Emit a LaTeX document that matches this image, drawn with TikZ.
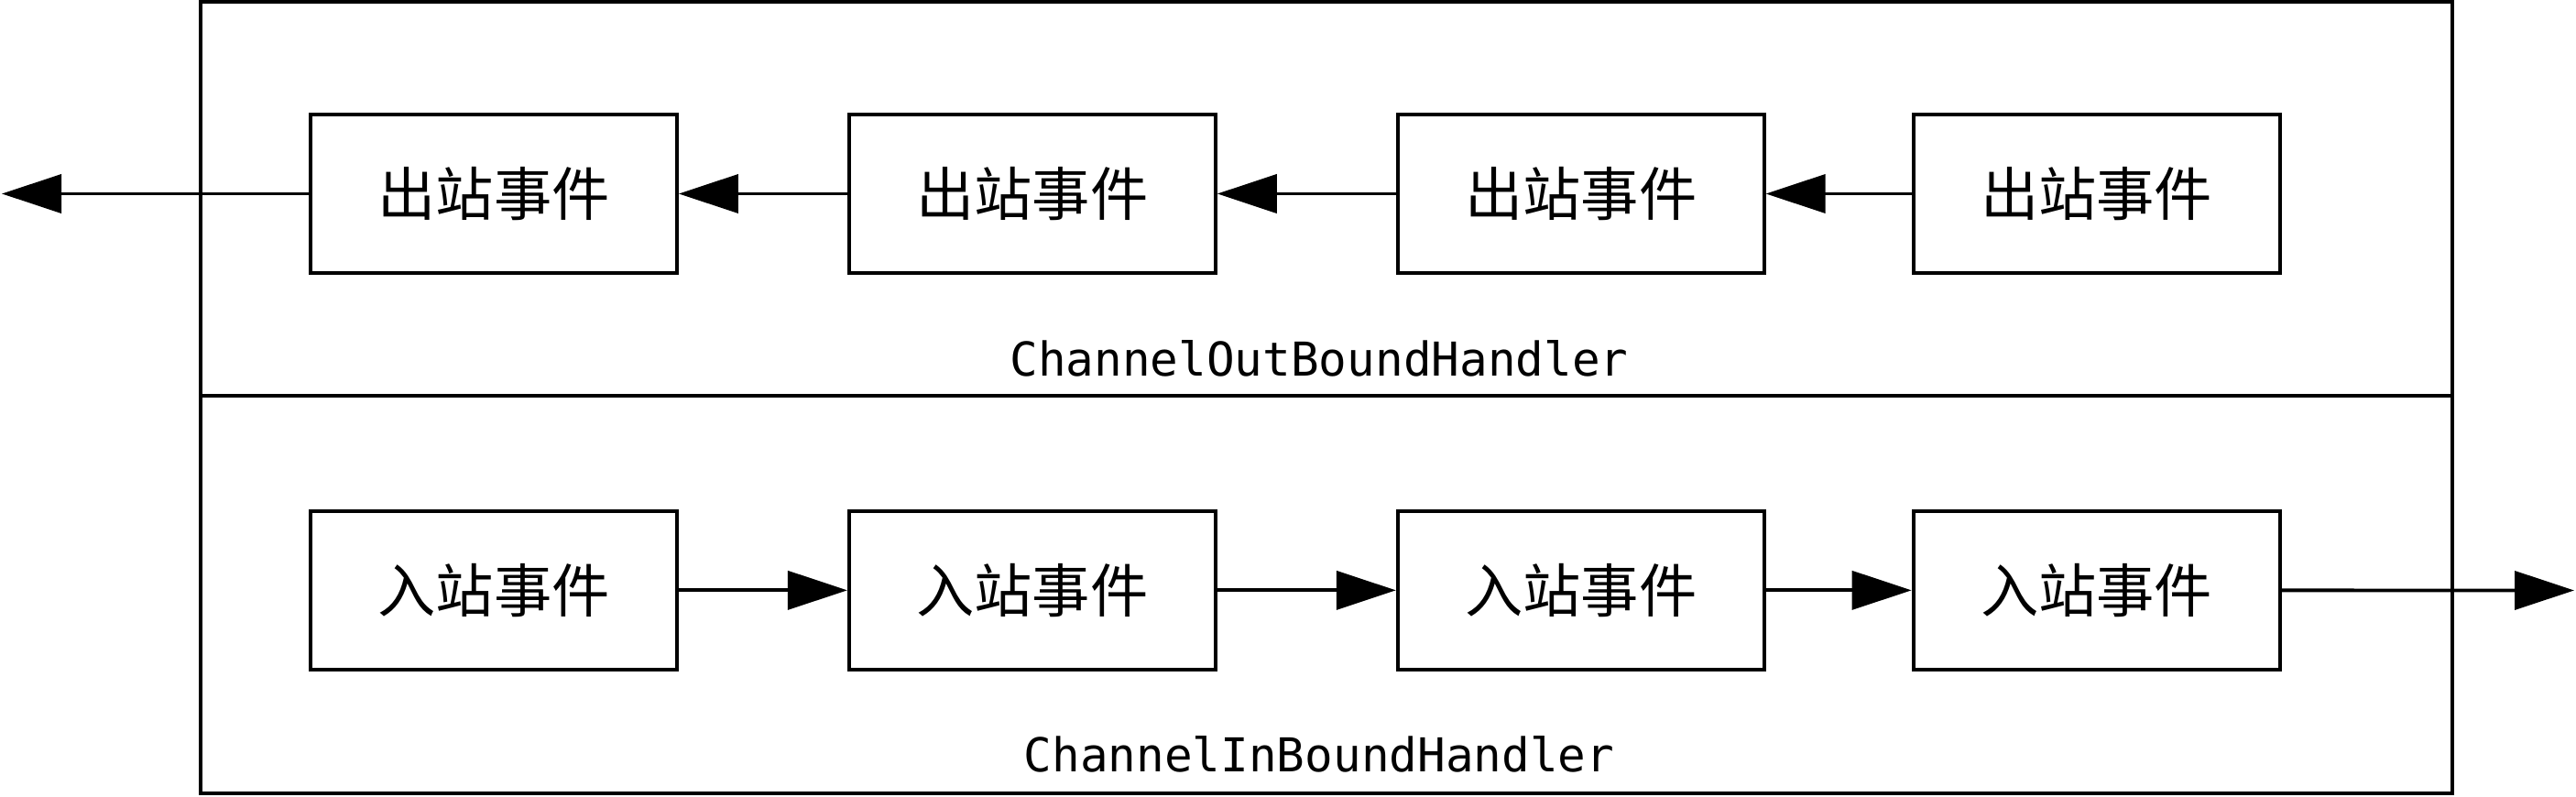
\documentclass[tikz,border=0pt]{standalone}
\usepackage{fontspec}
\setmonofont{DejaVu Sans Mono}
\newfontfamily\cjk{Noto Sans CJK SC}
\usetikzlibrary{arrows.meta,positioning,calc}

\begin{document}
\begin{tikzpicture}[
  line width=1.1pt,
  panel/.style={draw,minimum width=24.58cm,inner sep=0pt},
  evt/.style={draw,minimum width=4cm,minimum height=1.73cm,font=\cjk\fontsize{18}{20}\selectfont},
  arr/.style={-{Triangle[length=6.5mm,width=4.2mm]}},
  lab/.style={font=\ttfamily\fontsize{14.5}{17}\selectfont,anchor=base}
]
\useasboundingbox (0,0) rectangle (28.12,8.69);

\node[panel,minimum height=4.30cm] (outp) at (14.48,6.52) {};
\node[panel,minimum height=4.34cm] (inp) at (14.48,2.20) {};

% outbound chain
\node[evt] (o1) at (5.39,6.575) {出站事件};
\node[evt,right=1.84cm of o1] (o2) {出站事件};
\node[evt,right=1.95cm of o2] (o3) {出站事件};
\node[evt,right=1.59cm of o3] (o4) {出站事件};

% inbound chain
\node[evt,below=2.56cm of o1] (i1) {入站事件};
\node[evt,below=2.56cm of o2] (i2) {入站事件};
\node[evt,below=2.56cm of o3] (i3) {入站事件};
\node[evt,below=2.56cm of o4] (i4) {入站事件};

\coordinate (outL) at (0.02,6.575);
\coordinate (inR) at (28.10,2.245);

\draw[arr] (o4) -- (o3);
\draw[arr] (o3) -- (o2);
\draw[arr] (o2) -- (o1);
\draw[arr] (o1) -- (outL);

\draw[arr] (i1) -- (i2);
\draw[arr] (i2) -- (i3);
\draw[arr] (i3) -- (i4);
\draw[arr] (i4) -- (inR);

\node[lab] (outlab) at ($(outp.south)+(-0.08,0.23)$) {ChannelOutBoundHandler};
\node[lab] (inlab) at ($(inp.south)+(-0.08,0.25)$) {ChannelInBoundHandler};
\end{tikzpicture}
\end{document}
